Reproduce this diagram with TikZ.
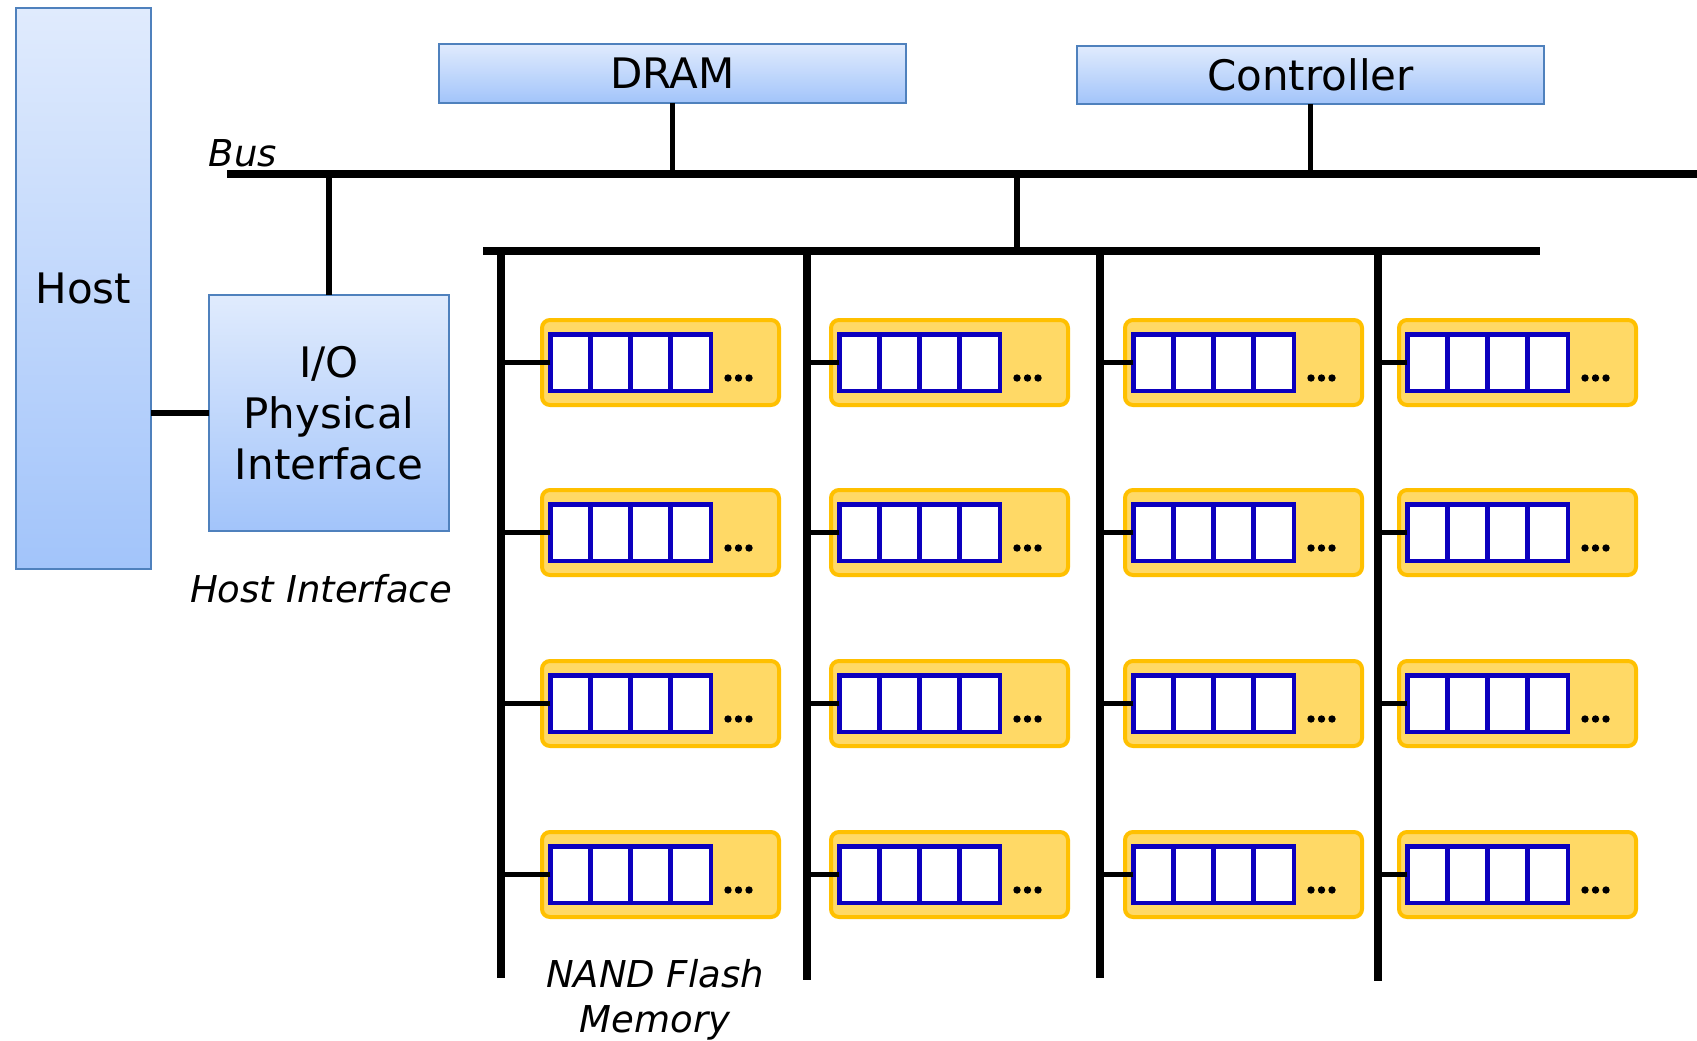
\documentclass[tikz,border=0pt]{standalone}
\usepackage{fontspec}
\setmainfont{DejaVu Sans}
\usetikzlibrary{calc}
\definecolor{boxtop}{RGB}{224,235,253}
\definecolor{boxbot}{RGB}{162,196,250}
\definecolor{boxline}{RGB}{79,129,189}
\definecolor{chipfill}{RGB}{255,217,102}
\definecolor{chipline}{RGB}{255,192,0}
\definecolor{cellblue}{RGB}{12,0,190}
\begin{document}
\begin{tikzpicture}[x=1pt,y=-1pt,
  bluebox/.style={draw=boxline,line width=1.8pt,top color=boxtop,bottom color=boxbot,
    inner sep=0pt,outer sep=0pt,font=\fontsize{42}{51}\selectfont,align=center},
  lblstyle/.style={inner sep=0pt,font=\fontsize{37}{45}\selectfont\itshape,align=center},
  chipbox/.style={draw=chipline,fill=chipfill,line width=4pt,rounded corners=8pt,
    minimum width=237pt,minimum height=85pt,inner sep=0pt,outer sep=0pt},
  cellbox/.style={draw=cellblue,fill=white,line width=4.5pt,minimum width=160.5pt,
    minimum height=56.5pt,inner sep=0pt,outer sep=0pt},
  celldiv/.style={draw=cellblue,line width=4.5pt},
  busline/.style={line width=8pt},
  chanline/.style={line width=7.5pt},
  connline/.style={line width=5.5pt}]
\useasboundingbox (0,0) rectangle (1697,1041);
% boxes
\node[bluebox,minimum width=135pt,minimum height=561pt] (host) at (83.5,288.5) {Host};
\node[bluebox,minimum width=467pt,minimum height=59pt] (dram) at (672.5,73.5) {DRAM};
\node[bluebox,minimum width=467pt,minimum height=58pt] (ctrl) at (1310.5,75) {Controller};
\node[bluebox,minimum width=240pt,minimum height=236pt] (io) at (329,413) {I/O\\Physical\\Interface};
% labels
\node[lblstyle] (buslbl) at (243,153) {Bus};
\node[lblstyle] (hilbl) at (321,589) {Host Interface};
\node[lblstyle] (nandlbl) at (655,1000) {NAND Flash\\Memory};
% buses
\coordinate (busL) at (227,174);
\coordinate (busR) at (1697,174);
\coordinate (tap) at (1017,174);
\coordinate (bus2L) at (483,251);
\coordinate (bus2R) at (1540,251);
\draw[busline] (busL) -- (busR);
\draw[busline] (bus2L) -- (bus2R);
\draw[connline] (dram.south) -- (dram.south |- busL);
\draw[connline] (ctrl.south) -- (ctrl.south |- busL);
\draw[connline] (io.north) -- (io.north |- busL);
\draw[connline] (tap) -- (tap |- bus2L);
\draw[connline] (io.west) -- (io.west -| host.east);
% channels
\foreach \c/\vx/\vb in {1/501/978, 2/807/980, 3/1100/978, 4/1378/981} {
  \coordinate (ch\c) at (\vx,251);
  \coordinate (chb\c) at (\vx,\vb);
  \draw[chanline] ([yshift=4pt]ch\c) -- (chb\c);
}
% chips
\foreach \c/\xl in {1/540, 2/829, 3/1123, 4/1397} {
  \foreach \r/\yt in {1/318, 2/488, 3/659, 4/830} {
    \node[chipbox] (chip-\c-\r) at (\xl+120.5,\yt+44.5) {};
    \node[cellbox] (blk-\c-\r) at (\xl+90.5,\yt+44.5) {};
    \foreach \k in {1,2,3}
      \draw[celldiv] ($(blk-\c-\r.north west)!\k/4!(blk-\c-\r.north east)$) -- ($(blk-\c-\r.south west)!\k/4!(blk-\c-\r.south east)$);
    \foreach \d in {0,1,2}
      \fill ($(chip-\c-\r.west)+(186+10.5*\d,15.5)$) circle (3.7pt);
    \draw[connline] (blk-\c-\r.west) -- (blk-\c-\r.west -| ch\c);
  }
}
\end{tikzpicture}
\end{document}
